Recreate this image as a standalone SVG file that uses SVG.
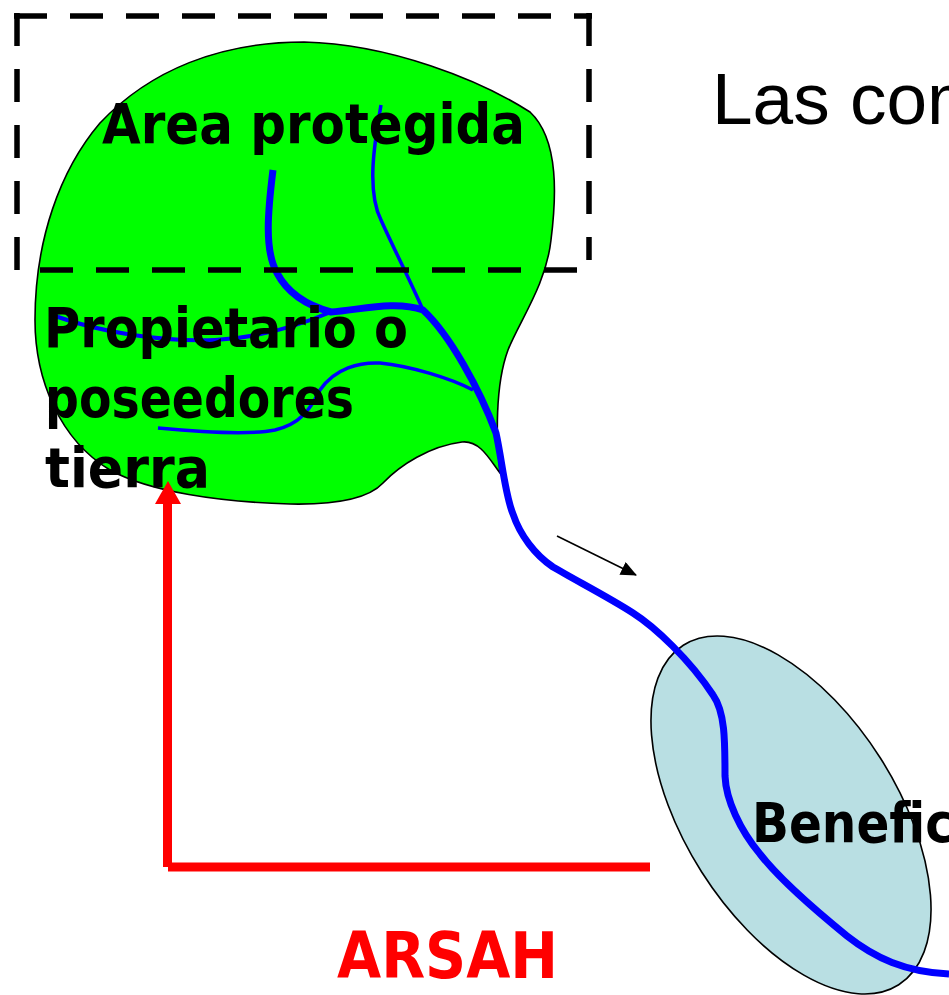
<svg xmlns="http://www.w3.org/2000/svg" width="949" height="995" viewBox="0 0 949 995">
<style>
.lbl{font-family:"Comic Sans MS","DejaVu Sans",sans-serif;font-weight:bold;font-size:56px;fill:#000}
.dash{stroke:#000;stroke-width:5.5;fill:none;stroke-dasharray:33 23}
.river{fill:none;stroke:#0000ff;stroke-linecap:butt;stroke-linejoin:round}
.red{stroke:#ff0000;stroke-width:9;fill:none}
</style>
<defs>
<marker id="arr" markerWidth="16" markerHeight="14" refX="15" refY="7" orient="auto" markerUnits="userSpaceOnUse">
<path d="M0,0 L16,7 L0,14 Z" fill="#000"/>
</marker>
</defs>
<rect width="949" height="995" fill="#fff"/>

<g id="area-protegida-blob">
<path d="M304,42 C390,44 480,80 530,112 C560,140 556,200 551,240 C546,285 520,320 508,350 C495,385 496,440 500,473 C490,460 480,440 462,442 C430,446 400,465 383,483 C370,497 340,505 290,504 C220,502 150,492 110,470 C60,440 35,380 35,320 C35,240 60,170 100,123 C150,70 220,42 304,42 Z" fill="#00ff00" stroke="#000" stroke-width="1.6"/>
</g>

<g id="beneficiarios">
<ellipse cx="791" cy="815" rx="201" ry="106" transform="rotate(57.6 791 815)" fill="#b9dfe3" stroke="#000" stroke-width="1.6"/>
</g>

<g id="connectors">
<path class="river" stroke-width="7" d="M273,170 C268,210 264,250 277,273 C287,292 305,305 331,312 C360,310 395,300 423,310 C450,335 480,390 496,433 C502,460 505,495 513,514 C520,535 535,555 553,567 C575,580 610,598 633,613 C655,627 690,660 713,695 C725,712 725,740 725,776 C726,800 740,830 760,854 C780,880 815,910 847,936 C875,958 905,972 949,974"/>
<path class="river" stroke-width="3.5" d="M381,105 C375,140 366,190 381,220 C392,245 410,280 423,310"/>
<path class="river" stroke-width="4" d="M55,316 C100,332 160,342 215,340 C260,338 300,325 331,312"/>
<path class="river" stroke-width="3.5" d="M158,428 C200,432 250,435 275,430 C300,424 310,410 320,390 C335,368 360,362 380,363 C410,366 450,378 473,390"/>
<line x1="557" y1="536" x2="636" y2="575" stroke="#000" stroke-width="1.6" marker-end="url(#arr)"/>
<line class="red" x1="167.5" y1="503" x2="167.5" y2="867"/>
<line class="red" x1="168" y1="867" x2="650" y2="867"/>
<polygon points="168,481 155,504 181,504" fill="#ff0000"/>
</g>

<g id="dashed-box">
<line class="dash" x1="14" y1="16" x2="592" y2="16"/>
<line class="dash" x1="17" y1="13" x2="17" y2="271"/>
<line class="dash" x1="589" y1="13" x2="589" y2="260"/>
<line class="dash" x1="40" y1="270" x2="579" y2="270"/>
</g>

<g id="labels">
<text class="lbl" x="102" y="143" textLength="423" lengthAdjust="spacingAndGlyphs">Area protegida</text>
<text class="lbl" x="44" y="347" textLength="364" lengthAdjust="spacingAndGlyphs">Propietario o</text>
<text class="lbl" x="45" y="417" textLength="309" lengthAdjust="spacingAndGlyphs">poseedores</text>
<text class="lbl" x="45" y="487" textLength="165" lengthAdjust="spacingAndGlyphs">tierra</text>
<text class="lbl" x="752" y="842" textLength="202" lengthAdjust="spacingAndGlyphs">Benefic</text>
<text class="lbl" x="337" y="978" textLength="221" lengthAdjust="spacingAndGlyphs" style="fill:#ff0000;font-size:64px">ARSAH</text>
<text x="712" y="124" style="font-family:'Liberation Sans',Arial,sans-serif;font-size:73px;fill:#000">Las com</text>
</g>
</svg>
